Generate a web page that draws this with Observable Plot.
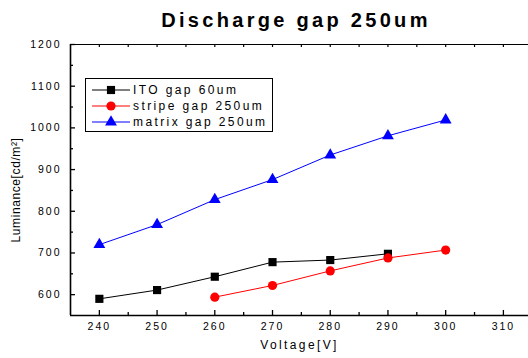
<!DOCTYPE html>
<html><head><meta charset="utf-8">
<script src="https://cdn.jsdelivr.net/npm/d3@7"></script>
<script src="https://cdn.jsdelivr.net/npm/@observablehq/plot@0.6"></script>
<style>
body{margin:0;background:#fff;font-family:"Liberation Sans",Arial,sans-serif;}
#wrap{position:relative;width:528px;height:358px;overflow:hidden;background:#fff;}
#title{height:36px;line-height:40px;font-weight:bold;font-size:20px;letter-spacing:3.3px;text-align:center;padding-left:64px;box-sizing:border-box;white-space:nowrap;color:#000;}
#legend{position:absolute;left:85px;top:78px;}
#legend text{letter-spacing:2.4px;}
</style></head>
<body><div id="wrap"><div id="title">Discharge gap 250um</div><div id="chart"></div><div id="legend"></div></div>
<script>
// ---- data ----
const seriesNames = ["ITO gap 60um", "stripe gap 250um", "matrix gap 250um"];
const itoVoltages = [240, 250, 260, 270, 280, 290];
const itoValues = [590, 611, 643, 678, 683, 698];
const stripeVoltages = [260, 270, 280, 290, 300];
const stripeValues = [594, 622, 657, 688, 707];
const matrixVoltages = [240, 250, 260, 270, 280, 290, 300];
const matrixValues = [720, 768, 828, 876, 935, 981, 1019];
const xTicks = [240, 250, 260, 270, 280, 290, 300, 310];
const xMinorTicks = [245, 255, 265, 275, 285, 295, 305];
const yTicks = [600, 700, 800, 900, 1000, 1100, 1200];
const yMinorTicks = [650, 750, 850, 950, 1050, 1150];
const topTicks = [240, 245, 250, 255, 260, 265, 270, 275, 280, 285, 290, 295, 300, 305, 310];
const xDomain = [235, 314.35];
const yDomain = [550, 1200];
const xLabel = "Voltage[V]";
const yLabel = "Luminance[cd/m\u00B2]";

const colors = ["#000000", "#ff0000", "#0000ff"];
const symbols = ["square", "circle", "triangle"];
const radii = [4.6, 4.6, 4.4];

const rows = [];
[[itoVoltages, itoValues], [stripeVoltages, stripeValues], [matrixVoltages, matrixValues]].forEach(([vs, ys], i) => {
  vs.forEach((v, j) => rows.push({series: seriesNames[i], v, lum: ys[j], idx: i}));
});

const W = 528, H = 322, mt = 8, mb = 43, ml = 70, mr = 0;
const innerH = H - mt - mb, innerW = W - ml - mr;

const seriesMarks = [];
seriesNames.forEach((name, i) => {
  const d = rows.filter(r => r.series === name);
  seriesMarks.push(Plot.line(d, {x: "v", y: "lum", stroke: colors[i], strokeWidth: 1}));
  seriesMarks.push(Plot.dot(d, {x: "v", y: "lum", fill: colors[i], stroke: "none", symbol: symbols[i], r: radii[i]}));
});

const chart = Plot.plot({
  width: W, height: H, marginTop: mt, marginBottom: mb, marginLeft: ml, marginRight: mr,
  style: {fontFamily: "'Liberation Sans', Arial, sans-serif", background: "white", overflow: "visible", color: "#000"},
  x: {domain: xDomain},
  y: {domain: yDomain},
  marks: [
    Plot.ruleY([yDomain[1]], {stroke: "#000", strokeWidth: 1}),
    Plot.ruleX(topTicks, {insetBottom: innerH - 3, stroke: "#000", strokeWidth: 1.2}),
    Plot.ruleX(xTicks, {insetTop: innerH - 5, stroke: "#000", strokeWidth: 1.3}),
    Plot.ruleX(xMinorTicks, {insetTop: innerH - 3, stroke: "#000", strokeWidth: 1.3}),
    Plot.ruleY(yTicks, {insetRight: innerW - 5, stroke: "#000", strokeWidth: 1.3}),
    Plot.ruleY(yMinorTicks, {insetRight: innerW - 3, stroke: "#000", strokeWidth: 1.3}),
    Plot.ruleX([xDomain[0]], {stroke: "#000", strokeWidth: 1.6}),
    Plot.ruleY([yDomain[0]], {stroke: "#000", strokeWidth: 1.6}),
    Plot.axisX({ticks: xTicks, tickSize: 0, tickPadding: 7, tickFormat: d => String(d), fontSize: 10.5, label: null}),
    Plot.axisY({ticks: yTicks, tickSize: 0, tickPadding: 9, tickFormat: d => String(d), fontSize: 10.5, label: null}),
    Plot.text([xLabel], {text: d => d, frameAnchor: "bottom", textAnchor: "middle", dy: 33, fontSize: 12, fill: "#000"}),
    Plot.text([yLabel], {text: d => d, frameAnchor: "left", textAnchor: "middle", rotate: -90, dx: -54, dy: 10, fontSize: 12, fill: "#000"}),
    ...seriesMarks
  ]
});
chart.querySelectorAll("text").forEach(t => {
  const s = t.textContent;
  if (s === yLabel) t.setAttribute("letter-spacing", "0.6");
  else if (s === xLabel) t.setAttribute("letter-spacing", "2.4");
  else t.setAttribute("letter-spacing", "2");
});
document.getElementById("chart").appendChild(chart);

// ---- legend ----
const lg = d3.select("#legend").append("svg").attr("width", 188).attr("height", 54);
lg.append("rect").attr("x", 0.5).attr("y", 0.5).attr("width", 187).attr("height", 53).attr("fill", "white").attr("stroke", "#000").attr("stroke-width", 1);
const rowY = [12, 28, 44];
const d3sym = {square: d3.symbolSquare, circle: d3.symbolCircle, triangle: d3.symbolTriangle};
seriesNames.forEach((name, i) => {
  const g = lg.append("g").attr("transform", `translate(0,${rowY[i]})`);
  g.append("line").attr("x1", 7).attr("x2", 45).attr("y1", 0).attr("y2", 0).attr("stroke", colors[i]).attr("stroke-width", 1);
  g.append("path").attr("transform", "translate(26,0)").attr("d", d3.symbol(d3sym[symbols[i]], Math.PI * radii[i] * radii[i])()).attr("fill", colors[i]);
  g.append("text").attr("x", 48).attr("y", 0).attr("dy", "0.36em").attr("font-size", 12).attr("font-family", "'Liberation Sans', Arial, sans-serif").attr("fill", "#000").text(name);
});
</script>
</body></html>
